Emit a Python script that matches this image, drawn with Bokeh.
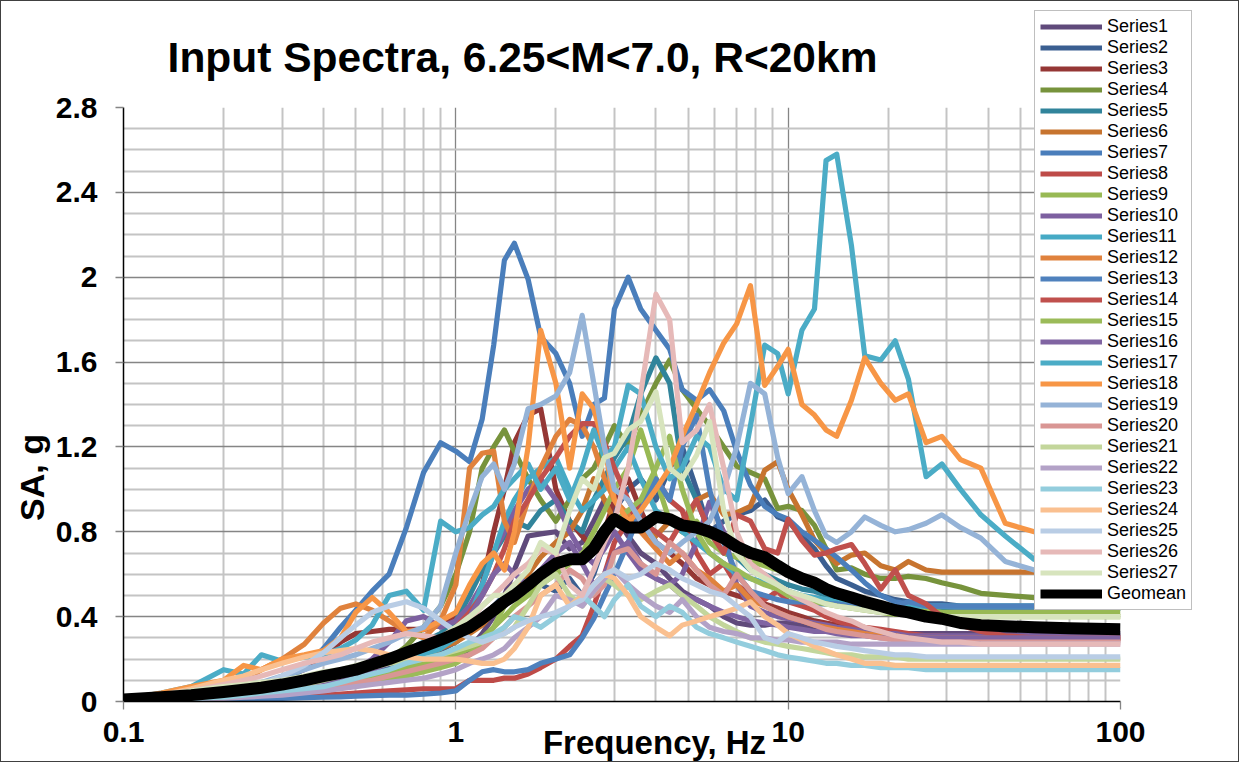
from bokeh.plotting import figure
from bokeh.models import (Range1d, FixedTicker, Legend, LegendItem, Label,
                          CustomJSTickFormatter, GridBox)
from bokeh.embed import file_html
from bokeh.resources import INLINE

freq = [0.1, 0.13, 0.16, 0.2, 0.23, 0.26, 0.3, 0.35, 0.4, 0.45,
        0.5, 0.56, 0.63, 0.71, 0.8, 0.9, 1.0, 1.1, 1.2, 1.3,
        1.4, 1.5, 1.65, 1.8, 2.0, 2.2, 2.4, 2.6, 2.8, 3.0,
        3.3, 3.6, 4.0, 4.4, 4.8, 5.3, 5.8, 6.4, 7.0, 7.7,
        8.5, 9.3, 10, 11, 12, 13, 14, 15.5, 17, 19,
        21, 23, 26, 29, 33, 38, 45, 55, 70, 100]

s1 = [0.005, 0.01, 0.015, 0.02, 0.025, 0.03, 0.04, 0.05, 0.06, 0.07,
      0.08, 0.10, 0.12, 0.14, 0.16, 0.18, 0.20, 0.25, 0.32, 0.40,
      0.50, 0.62, 0.78, 0.79, 0.80, 0.72, 0.75, 0.85, 0.95, 0.88,
      0.78, 0.70, 0.65, 0.58, 0.52, 0.48, 0.45, 0.40, 0.37, 0.36,
      0.36, 0.37, 0.37, 0.36, 0.35, 0.34, 0.34, 0.33, 0.33, 0.33,
      0.32, 0.32, 0.32, 0.32, 0.32, 0.32, 0.32, 0.32, 0.32, 0.32]
s2 = [0.005, 0.01, 0.015, 0.02, 0.03, 0.04, 0.05, 0.06, 0.08, 0.10,
      0.12, 0.14, 0.16, 0.18, 0.20, 0.24, 0.28, 0.33, 0.40, 0.45,
      0.50, 0.55, 0.58, 0.55, 0.52, 0.58, 0.50, 0.60, 0.75, 0.90,
      1.00, 1.05, 0.95, 1.10, 1.20, 1.00, 0.80, 0.85, 0.88, 0.90,
      0.95, 0.87, 0.85, 0.78, 0.72, 0.64, 0.58, 0.55, 0.52, 0.50,
      0.48, 0.47, 0.46, 0.46, 0.45, 0.45, 0.45, 0.45, 0.45, 0.45]
s3 = [0.005, 0.01, 0.02, 0.04, 0.06, 0.08, 0.11, 0.15, 0.22, 0.28,
      0.32, 0.33, 0.34, 0.34, 0.34, 0.36, 0.40, 0.42, 0.55, 0.80,
      1.00, 1.22, 1.35, 1.38, 1.00, 0.85, 0.78, 0.72, 0.80, 0.95,
      1.05, 0.90, 0.75, 0.70, 0.65, 0.58, 0.55, 0.52, 0.50, 0.48,
      0.46, 0.44, 0.42, 0.40, 0.38, 0.37, 0.36, 0.35, 0.34, 0.33,
      0.32, 0.31, 0.30, 0.30, 0.29, 0.29, 0.29, 0.29, 0.29, 0.29]
s4 = [0.005, 0.01, 0.015, 0.02, 0.03, 0.04, 0.05, 0.07, 0.09, 0.11,
      0.13, 0.16, 0.20, 0.26, 0.35, 0.45, 0.60, 0.80, 1.10, 1.20,
      1.28, 1.18, 1.05, 0.95, 0.85, 0.95, 1.05, 1.10, 1.20, 1.30,
      1.20, 1.35, 1.50, 1.61, 1.47, 1.38, 1.30, 1.20, 1.11, 1.08,
      1.05, 0.91, 0.92, 0.90, 0.83, 0.72, 0.62, 0.63, 0.60, 0.58,
      0.58, 0.59, 0.58, 0.56, 0.54, 0.51, 0.50, 0.49, 0.48, 0.48]
s5 = [0.005, 0.01, 0.02, 0.03, 0.04, 0.05, 0.07, 0.09, 0.11, 0.13,
      0.15, 0.18, 0.21, 0.24, 0.28, 0.32, 0.38, 0.50, 0.62, 0.70,
      0.78, 0.85, 0.82, 0.90, 0.95, 0.85, 0.80, 0.95, 1.05, 1.15,
      1.25, 1.45, 1.62, 1.50, 1.10, 0.95, 0.80, 0.70, 0.68, 0.62,
      0.60, 0.57, 0.55, 0.53, 0.52, 0.50, 0.48, 0.47, 0.46, 0.45,
      0.45, 0.45, 0.44, 0.44, 0.44, 0.44, 0.44, 0.44, 0.44, 0.44]
s6 = [0.01, 0.015, 0.02, 0.03, 0.04, 0.05, 0.06, 0.08, 0.10, 0.12,
      0.14, 0.16, 0.18, 0.20, 0.22, 0.25, 0.28, 0.32, 0.36, 0.42,
      0.50, 0.55, 0.60, 0.68, 0.75, 0.80, 0.90, 1.05, 0.95, 0.85,
      0.90, 0.80, 0.78, 0.85, 0.80, 0.95, 0.98, 0.88, 0.89, 0.92,
      1.09, 1.13, 1.00, 0.88, 0.76, 0.70, 0.65, 0.69, 0.70, 0.64,
      0.62, 0.66, 0.62, 0.61, 0.61, 0.61, 0.61, 0.61, 0.61, 0.61]
s7 = [0.005, 0.008, 0.012, 0.02, 0.03, 0.045, 0.07, 0.16, 0.25, 0.35,
      0.43, 0.52, 0.60, 0.82, 1.08, 1.22, 1.18, 1.13, 1.33, 1.68,
      2.08, 2.16, 1.99, 1.72, 1.64, 1.50, 1.25, 1.40, 1.43, 1.85,
      2.00, 1.85, 1.75, 1.66, 1.47, 1.42, 1.47, 1.37, 1.18, 1.02,
      0.92, 0.88, 0.86, 0.80, 0.76, 0.72, 0.68, 0.62, 0.56, 0.50,
      0.47, 0.46, 0.45, 0.45, 0.44, 0.44, 0.44, 0.44, 0.44, 0.44]
s8 = [0.002, 0.004, 0.006, 0.01, 0.012, 0.015, 0.02, 0.025, 0.03, 0.035,
      0.04, 0.045, 0.05, 0.055, 0.06, 0.06, 0.06, 0.10, 0.10, 0.10,
      0.11, 0.11, 0.13, 0.16, 0.20, 0.26, 0.31, 0.45, 0.60, 0.75,
      0.85, 0.95, 1.05, 0.95, 0.90, 0.70, 0.60, 0.65, 0.55, 0.50,
      0.48, 0.52, 0.47, 0.45, 0.43, 0.40, 0.38, 0.36, 0.35, 0.34,
      0.33, 0.32, 0.31, 0.31, 0.30, 0.30, 0.30, 0.30, 0.30, 0.30]
s9 = [0.005, 0.01, 0.015, 0.02, 0.025, 0.03, 0.04, 0.05, 0.06, 0.08,
      0.10, 0.12, 0.14, 0.16, 0.18, 0.20, 0.22, 0.25, 0.30, 0.35,
      0.40, 0.45, 0.50, 0.55, 0.60, 0.65, 0.70, 0.80, 0.90, 1.00,
      1.10, 1.28, 1.05, 0.85, 0.80, 0.85, 0.75, 0.70, 0.68, 0.66,
      0.64, 0.62, 0.60, 0.58, 0.55, 0.52, 0.50, 0.48, 0.46, 0.45,
      0.44, 0.43, 0.43, 0.42, 0.42, 0.42, 0.42, 0.42, 0.42, 0.42]
s10 = [0.005, 0.01, 0.015, 0.02, 0.03, 0.04, 0.05, 0.07, 0.09, 0.12,
       0.15, 0.20, 0.28, 0.38, 0.40, 0.35, 0.38, 0.45, 0.55, 0.70,
       0.80, 0.90, 1.00, 1.05, 0.95, 0.80, 0.70, 0.65, 0.72, 0.80,
       0.70, 0.62, 0.58, 0.55, 0.60, 0.75, 0.94, 0.80, 0.55, 0.45,
       0.42, 0.40, 0.39, 0.38, 0.37, 0.36, 0.35, 0.34, 0.33, 0.32,
       0.32, 0.31, 0.31, 0.31, 0.31, 0.31, 0.31, 0.31, 0.31, 0.31]
s11 = [0.005, 0.01, 0.02, 0.03, 0.04, 0.05, 0.06, 0.08, 0.10, 0.12,
       0.14, 0.16, 0.18, 0.20, 0.22, 0.25, 0.30, 0.40, 0.55, 0.70,
       0.85, 0.95, 1.05, 1.10, 1.15, 1.00, 0.90, 0.95, 1.00, 1.10,
       1.20, 1.05, 0.90, 0.85, 0.80, 0.75, 0.70, 0.65, 0.60, 0.58,
       0.56, 0.54, 0.52, 0.50, 0.49, 0.48, 0.47, 0.46, 0.46, 0.45,
       0.45, 0.45, 0.45, 0.45, 0.45, 0.45, 0.45, 0.45, 0.45, 0.45]
s12 = [0.01, 0.02, 0.04, 0.07, 0.10, 0.15, 0.20, 0.27, 0.37, 0.44,
       0.46, 0.43, 0.38, 0.33, 0.30, 0.38, 0.55, 1.10, 1.17, 1.18,
       0.85, 0.75, 0.95, 1.10, 1.25, 1.33, 1.30, 1.20, 1.05, 0.95,
       0.88, 0.80, 0.72, 0.65, 0.70, 0.62, 0.58, 0.52, 0.55, 0.48,
       0.45, 0.42, 0.40, 0.38, 0.36, 0.35, 0.34, 0.33, 0.32, 0.31,
       0.31, 0.30, 0.30, 0.30, 0.30, 0.30, 0.30, 0.30, 0.30, 0.30]
s13 = [0.002, 0.004, 0.006, 0.008, 0.01, 0.012, 0.015, 0.018, 0.02, 0.022,
       0.025, 0.028, 0.03, 0.03, 0.035, 0.04, 0.05, 0.10, 0.14, 0.15,
       0.14, 0.14, 0.15, 0.18, 0.20, 0.22, 0.30, 0.39, 0.50, 0.60,
       0.75, 0.90, 1.05, 0.95, 1.20, 1.35, 1.00, 0.75, 0.60, 0.52,
       0.50, 0.48, 0.47, 0.47, 0.46, 0.46, 0.46, 0.45, 0.45, 0.45,
       0.45, 0.47, 0.45, 0.45, 0.45, 0.45, 0.45, 0.45, 0.45, 0.45]
s14 = [0.005, 0.01, 0.015, 0.025, 0.035, 0.045, 0.06, 0.08, 0.10, 0.12,
       0.14, 0.16, 0.18, 0.21, 0.25, 0.30, 0.35, 0.42, 0.50, 0.60,
       0.72, 0.85, 0.95, 1.05, 1.15, 1.25, 1.31, 1.31, 1.22, 1.10,
       0.95, 0.85, 0.80, 0.75, 0.85, 0.95, 0.80, 0.70, 0.88, 0.85,
       0.72, 0.70, 0.86, 0.76, 0.69, 0.70, 0.72, 0.74, 0.65, 0.53,
       0.62, 0.50, 0.46, 0.40, 0.36, 0.33, 0.31, 0.30, 0.30, 0.30]
s15 = [0.005, 0.008, 0.012, 0.02, 0.025, 0.03, 0.04, 0.05, 0.06, 0.07,
       0.08, 0.09, 0.10, 0.12, 0.14, 0.16, 0.18, 0.22, 0.28, 0.35,
       0.45, 0.50, 0.55, 0.60, 0.62, 0.65, 0.70, 0.75, 0.80, 0.85,
       0.90, 0.95, 1.10, 1.25, 1.00, 0.80, 0.70, 0.65, 0.62, 0.58,
       0.55, 0.53, 0.50, 0.48, 0.47, 0.46, 0.45, 0.44, 0.43, 0.42,
       0.41, 0.41, 0.40, 0.40, 0.40, 0.40, 0.40, 0.40, 0.40, 0.40]
s16 = [0.005, 0.01, 0.015, 0.02, 0.03, 0.04, 0.05, 0.06, 0.08, 0.10,
       0.12, 0.15, 0.18, 0.22, 0.26, 0.30, 0.35, 0.40, 0.50, 0.60,
       0.65, 0.60, 0.55, 0.62, 0.70, 0.75, 0.65, 0.55, 0.60, 0.70,
       0.75, 0.65, 0.58, 0.55, 0.50, 0.48, 0.45, 0.42, 0.40, 0.38,
       0.37, 0.36, 0.35, 0.34, 0.33, 0.33, 0.32, 0.31, 0.31, 0.30,
       0.30, 0.30, 0.30, 0.30, 0.30, 0.30, 0.30, 0.30, 0.30, 0.30]
s17 = [0.01, 0.04, 0.07, 0.15, 0.13, 0.22, 0.19, 0.21, 0.22, 0.25,
       0.29, 0.36, 0.50, 0.52, 0.43, 0.85, 0.80, 0.82, 0.88, 0.92,
       1.00, 1.05, 1.12, 1.00, 1.10, 0.95, 1.10, 1.28, 1.15, 1.20,
       1.49, 1.45, 1.20, 1.05, 1.10, 1.25, 1.20, 1.00, 0.95, 1.30,
       1.68, 1.64, 1.45, 1.75, 1.85, 2.55, 2.58, 2.15, 1.63, 1.61,
       1.70, 1.52, 1.06, 1.12, 1.00, 0.88, 0.78, 0.67, 0.62, 0.60]
s18 = [0.01, 0.04, 0.07, 0.10, 0.17, 0.15, 0.20, 0.22, 0.24, 0.30,
       0.42, 0.49, 0.42, 0.33, 0.34, 0.38, 0.42, 0.55, 0.65, 0.70,
       0.62, 0.80, 1.20, 1.75, 1.50, 1.10, 1.45, 1.38, 1.20, 0.95,
       0.85, 0.90, 1.00, 1.10, 1.25, 1.40, 1.55, 1.69, 1.78, 1.96,
       1.49, 1.58, 1.66, 1.40, 1.35, 1.28, 1.25, 1.42, 1.62, 1.50,
       1.42, 1.45, 1.22, 1.25, 1.14, 1.10, 0.84, 0.80, 0.76, 0.75]
s19 = [0.01, 0.02, 0.03, 0.05, 0.07, 0.09, 0.12, 0.15, 0.18, 0.20,
       0.22, 0.25, 0.28, 0.32, 0.35, 0.45, 0.70, 0.90, 1.06, 1.12,
       1.00, 1.12, 1.38, 1.40, 1.44, 1.55, 1.82, 1.50, 1.20, 1.00,
       0.95, 0.85, 0.75, 0.70, 0.75, 0.80, 0.85, 1.00, 1.20, 1.50,
       1.45, 1.15, 0.98, 1.06, 0.90, 0.78, 0.75, 0.80, 0.87, 0.83,
       0.80, 0.81, 0.84, 0.88, 0.82, 0.77, 0.66, 0.62, 0.60, 0.60]
s20 = [0.005, 0.01, 0.015, 0.02, 0.03, 0.04, 0.05, 0.06, 0.07, 0.08,
       0.09, 0.10, 0.12, 0.14, 0.16, 0.18, 0.20, 0.22, 0.25, 0.30,
       0.35, 0.40, 0.45, 0.50, 0.55, 0.62, 0.58, 0.50, 0.55, 0.70,
       0.72, 0.65, 0.60, 0.75, 0.70, 0.62, 0.55, 0.50, 0.60, 0.52,
       0.45, 0.42, 0.40, 0.38, 0.36, 0.34, 0.33, 0.32, 0.31, 0.30,
       0.29, 0.29, 0.28, 0.28, 0.28, 0.28, 0.28, 0.28, 0.28, 0.28]
s21 = [0.005, 0.01, 0.02, 0.03, 0.04, 0.05, 0.06, 0.08, 0.10, 0.12,
       0.14, 0.16, 0.18, 0.19, 0.20, 0.22, 0.24, 0.26, 0.28, 0.30,
       0.32, 0.35, 0.45, 0.55, 0.60, 0.50, 0.45, 0.52, 0.58, 0.55,
       0.50, 0.48, 0.52, 0.55, 0.50, 0.45, 0.40, 0.36, 0.33, 0.30,
       0.28, 0.27, 0.26, 0.25, 0.24, 0.23, 0.22, 0.22, 0.21, 0.21,
       0.21, 0.20, 0.20, 0.20, 0.20, 0.20, 0.20, 0.20, 0.20, 0.20]
s22 = [0.003, 0.006, 0.01, 0.015, 0.02, 0.025, 0.03, 0.04, 0.05, 0.06,
       0.07, 0.08, 0.09, 0.10, 0.11, 0.13, 0.15, 0.18, 0.20, 0.22,
       0.25, 0.30, 0.35, 0.40, 0.50, 0.48, 0.45, 0.52, 0.58, 0.62,
       0.55, 0.50, 0.45, 0.42, 0.48, 0.40, 0.35, 0.33, 0.32, 0.30,
       0.30, 0.29, 0.29, 0.28, 0.28, 0.28, 0.28, 0.27, 0.27, 0.27,
       0.27, 0.27, 0.27, 0.27, 0.27, 0.27, 0.27, 0.27, 0.27, 0.27]
s23 = [0.005, 0.01, 0.015, 0.02, 0.03, 0.04, 0.05, 0.06, 0.07, 0.09,
       0.11, 0.13, 0.15, 0.18, 0.20, 0.22, 0.25, 0.28, 0.30, 0.32,
       0.35, 0.40, 0.38, 0.35, 0.40, 0.45, 0.50, 0.45, 0.40, 0.48,
       0.55, 0.45, 0.40, 0.45, 0.42, 0.35, 0.32, 0.30, 0.28, 0.26,
       0.24, 0.22, 0.21, 0.20, 0.19, 0.18, 0.18, 0.17, 0.17, 0.16,
       0.16, 0.16, 0.15, 0.15, 0.15, 0.15, 0.15, 0.15, 0.15, 0.15]
s24 = [0.01, 0.03, 0.06, 0.10, 0.12, 0.15, 0.18, 0.21, 0.23, 0.24,
       0.25, 0.24, 0.22, 0.21, 0.20, 0.20, 0.20, 0.19, 0.18, 0.18,
       0.20, 0.25, 0.35, 0.50, 0.55, 0.45, 0.50, 0.55, 0.60, 0.58,
       0.50, 0.40, 0.35, 0.31, 0.36, 0.38, 0.40, 0.42, 0.44, 0.47,
       0.40, 0.36, 0.32, 0.29, 0.26, 0.24, 0.22, 0.20, 0.18, 0.18,
       0.17, 0.17, 0.17, 0.17, 0.17, 0.17, 0.17, 0.17, 0.17, 0.17]
s25 = [0.005, 0.01, 0.02, 0.04, 0.06, 0.08, 0.12, 0.17, 0.23, 0.30,
       0.36, 0.42, 0.45, 0.47, 0.44, 0.38, 0.33, 0.30, 0.28, 0.30,
       0.32, 0.35, 0.38, 0.40, 0.42, 0.45, 0.48, 0.55, 0.60, 0.62,
       0.58, 0.60, 0.65, 0.62, 0.58, 0.55, 0.52, 0.50, 0.45, 0.40,
       0.30, 0.28, 0.32, 0.30, 0.28, 0.27, 0.26, 0.25, 0.24, 0.23,
       0.22, 0.22, 0.21, 0.21, 0.21, 0.21, 0.21, 0.21, 0.21, 0.21]
s26 = [0.01, 0.03, 0.05, 0.08, 0.10, 0.12, 0.15, 0.18, 0.20, 0.22,
       0.25, 0.28, 0.30, 0.32, 0.31, 0.30, 0.32, 0.38, 0.45, 0.50,
       0.55, 0.60, 0.65, 0.72, 0.70, 0.55, 0.50, 0.62, 0.75, 0.85,
       1.10, 1.45, 1.92, 1.80, 1.22, 1.28, 1.40, 1.10, 0.80, 0.65,
       0.60, 0.55, 0.52, 0.48, 0.45, 0.42, 0.40, 0.38, 0.35, 0.33,
       0.31, 0.30, 0.29, 0.28, 0.28, 0.27, 0.27, 0.27, 0.27, 0.27]
s27 = [0.01, 0.03, 0.05, 0.07, 0.08, 0.09, 0.10, 0.12, 0.14, 0.15,
       0.17, 0.19, 0.21, 0.24, 0.27, 0.30, 0.35, 0.40, 0.45, 0.50,
       0.50, 0.55, 0.62, 0.75, 0.70, 0.90, 1.05, 1.00, 1.15, 1.17,
       1.28, 1.32, 1.46, 1.10, 1.05, 1.16, 1.32, 0.90, 0.70, 0.62,
       0.58, 0.55, 0.52, 0.50, 0.48, 0.46, 0.45, 0.44, 0.43, 0.42,
       0.42, 0.41, 0.41, 0.40, 0.40, 0.40, 0.40, 0.40, 0.40, 0.40]
geomean = [0.01, 0.02, 0.03, 0.045, 0.055, 0.065, 0.08, 0.10, 0.12, 0.135,
           0.15, 0.175, 0.20, 0.23, 0.26, 0.29, 0.32, 0.35, 0.39, 0.43,
           0.47, 0.50, 0.55, 0.60, 0.65, 0.67, 0.67, 0.72, 0.80, 0.86,
           0.82, 0.82, 0.87, 0.86, 0.83, 0.82, 0.80, 0.77, 0.73, 0.70,
           0.68, 0.64, 0.61, 0.58, 0.56, 0.53, 0.51, 0.49, 0.47, 0.45,
           0.43, 0.42, 0.40, 0.39, 0.37, 0.36, 0.355, 0.35, 0.345, 0.34]

series = [s1, s2, s3, s4, s5, s6, s7, s8, s9, s10, s11, s12, s13, s14,
          s15, s16, s17, s18, s19, s20, s21, s22, s23, s24, s25, s26, s27]
names = ["Series%d" % (i + 1) for i in range(27)]
colors = ["#604A7B", "#3B5F91", "#953735", "#77933C", "#31849B", "#C7742F",
          "#4A7EBB", "#BE4B48", "#98B954", "#7D60A0", "#46AAC5", "#E0823D",
          "#4F81BD", "#C0504D", "#9BBB59", "#8064A2", "#4BACC6", "#F79646",
          "#95B3D7", "#D99694", "#C3D69B", "#B3A2C7", "#93CDDD", "#FAC090",
          "#B9CDE5", "#E6B9B8", "#D7E4BD"]

y_major = [0, 0.4, 0.8, 1.2, 1.6, 2.0, 2.4, 2.8]
y_minor = [0.1, 0.2, 0.3, 0.5, 0.6, 0.7, 0.9, 1.0, 1.1, 1.3, 1.4, 1.5, 1.7,
           1.8, 1.9, 2.1, 2.2, 2.3, 2.5, 2.6, 2.7]
x_major = [0.1, 1, 10, 100]
x_minor = [0.2, 0.3, 0.4, 0.5, 0.6, 0.7, 0.8, 0.9, 2, 3, 4, 5, 6, 7, 8, 9,
           20, 30, 40, 50, 60, 70, 80, 90]

FONT = "Liberation Sans"
W, H = 1239, 762
LW = 5.2

# ---------------- main chart ----------------
p = figure(width=W, height=H, x_axis_type="log", title=None,
           x_range=Range1d(0.1, 100), y_range=Range1d(0, 2.8),
           output_backend="svg", toolbar_location=None,
           min_border_left=122, min_border_right=120,
           min_border_top=106, min_border_bottom=62)
p.frame_align = False
p.outline_line_color = None
p.background_fill_color = "white"
p.border_fill_color = "white"
p.styles = {"border": "1px solid #404040"}

xt = FixedTicker(ticks=x_major, minor_ticks=x_minor)
yt = FixedTicker(ticks=y_major, minor_ticks=y_minor)
p.xaxis.ticker = xt
p.yaxis.ticker = yt
p.xgrid.ticker = xt
p.ygrid.ticker = yt
for g in (p.xgrid, p.ygrid):
    g.grid_line_color = "#858585"
    g.grid_line_width = 1.3
    g.minor_grid_line_color = "#C4C4C4"
    g.minor_grid_line_width = 2

p.xaxis.formatter = CustomJSTickFormatter(code="return String(tick)")
p.yaxis.formatter = CustomJSTickFormatter(code="return String(Math.round(tick*10)/10)")
for ax in (p.xaxis, p.yaxis):
    ax.axis_line_color = "black"
    ax.axis_line_width = 1.5
    ax.major_tick_line_color = "#858585"
    ax.major_tick_line_width = 1.3
    ax.major_tick_out = 8
    ax.major_tick_in = 0
    ax.minor_tick_line_color = None
    ax.major_label_text_font = FONT
    ax.major_label_text_font_style = "bold"
    ax.major_label_text_font_size = "30px"
    ax.major_label_text_color = "black"
p.yaxis.major_label_standoff = 18
p.xaxis.major_label_standoff = 12

for name, s, c in zip(names, series, colors):
    p.line(freq, s, line_color=c, line_width=LW, line_join="round")
p.line(freq, geomean, line_color="black", line_width=12, line_join="round")

# ---------------- overlay: title, axis titles, legend ----------------
o = figure(width=W, height=H, title=None, x_range=Range1d(0, W),
           y_range=Range1d(0, H), output_backend="svg", toolbar_location=None,
           min_border=0, x_axis_location=None, y_axis_location=None)
o.frame_align = False
o.grid.visible = False
o.outline_line_color = None
o.background_fill_alpha = 0
o.border_fill_alpha = 0
o.styles = {"border": "1px solid transparent"}

# legend swatches: off-canvas stand-in renderers carrying each series' style
hx = [-30, -20]
hy = [-30, -30]
items = []
for name, c in zip(names, colors):
    r = o.line(hx, hy, line_color=c, line_width=LW)
    items.append(LegendItem(label=name, renderers=[r]))
rg = o.line(hx, hy, line_color="black", line_width=9)
items.append(LegendItem(label="Geomean", renderers=[rg]))

legend = Legend(items=items, location=(1033, 153), orientation="vertical",
                label_text_font=FONT, label_text_font_size="18px",
                label_text_color="black",
                label_height=21, glyph_height=21, glyph_width=62,
                label_standoff=5, spacing=0, padding=5, margin=0,
                border_line_color="#808080", border_line_width=1,
                background_fill_color="white", background_fill_alpha=1)
o.add_layout(legend, "center")

o.add_layout(Label(x=521, y=706, x_units="screen", y_units="screen",
                   text="Input Spectra, 6.25<M<7.0, R<20km",
                   text_font=FONT, text_font_style="bold", text_font_size="42.5px",
                   text_color="black", text_align="center",
                   text_baseline="middle"))
o.add_layout(Label(x=653, y=21, x_units="screen", y_units="screen",
                   text="Frequency, Hz", text_font=FONT, text_font_style="bold",
                   text_font_size="33px", text_color="black",
                   text_align="center", text_baseline="middle"))
o.add_layout(Label(x=30, y=286, x_units="screen", y_units="screen",
                   text="SA, g", angle=1.5708, text_font=FONT,
                   text_font_style="bold", text_font_size="34px",
                   text_color="black", text_align="center",
                   text_baseline="middle"))

layout = GridBox(children=[(p, 0, 0), (o, 0, 0)])
open("out.html", "w").write(file_html(layout, INLINE))
